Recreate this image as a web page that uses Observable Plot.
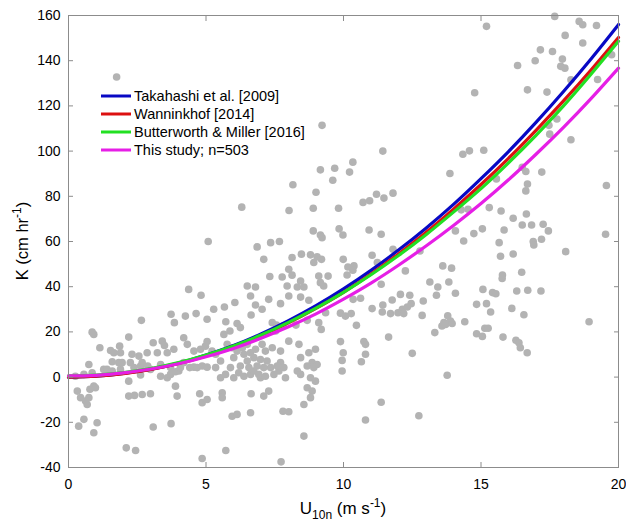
<!DOCTYPE html>
<html><head><meta charset="utf-8">
<script src="https://cdn.jsdelivr.net/npm/d3@7"></script>
<script src="https://cdn.jsdelivr.net/npm/@observablehq/plot@0.6"></script>
<style>body{margin:0;background:#fff;} svg{display:block}</style>
</head><body><div id="chart"></div>
<script>
// Observations: wind speed U10n (m/s) and transfer velocity K (cm/hr)
const windU = [
1.75, 9.22, 9.16, 9.68, 9.61, 8.16, 9.0, 10.22, 6.3, 8.02,
8.9, 9.82, 8.9, 9.16, 9.84, 9.98, 15.2, 14.77, 11.43, 10.34,
14.34, 14.58, 15.1, 13.87, 11.2, 11.47, 11.8, 10.71, 10.95, 14.28,
14.53, 15.3, 10.93, 11.37, 14.07, 14.74, 15.05, 17.68, 18.57, 18.7,
19.2, 18.06, 18.7, 17.16, 17.6, 16.97, 16.33, 17.96, 17.9, 18.05,
19.75, 18.27, 19.24, 16.69, 17.4, 17.47, 17.76, 17.5, 18.27, 16.63,
17.21, 16.5, 15.56, 16.69, 16.63, 19.56, 15.73, 16.17, 16.65, 16.5,
16.84, 17.26, 17.45, 15.84, 19.53, 15.66, 16.9, 16.92, 17.2, 15.71,
16.17, 18.08, 15.78, 15.77, 16.48, 15.07, 15.42, 15.54, 16.3, 16.7,
17.18, 14.84, 15.2, 15.35, 16.12, 16.56, 18.93, 15.14, 15.26, 14.84,
15.05, 15.8, 16.27, 16.38, 16.43, 16.68, 14.37, 11.8, 11.04, 9.99,
10.16, 10.38, 10.34, 10.13, 11.23, 11.37, 12.25, 12.78, 13.61, 13.93,
13.14, 13.43, 13.83, 14.07, 13.38, 10.35, 10.62, 11.77, 12.07, 12.41,
11.43, 11.41, 11.71, 11.98, 12.14, 12.32, 12.46, 12.19, 12.9, 11.04,
12.86, 10.28, 10.47, 13.79, 13.89, 13.65, 13.58, 13.71, 13.95, 13.32,
14.41, 11.64, 9.89, 9.99, 9.95, 9.95, 10.74, 10.8, 10.8, 10.65,
12.5, 13.77, 11.37, 10.8, 12.74, 5.08, 4.37, 4.82, 3.73, 3.85,
4.25, 4.64, 5.04, 2.65, 0.86, 0.92, 1.14, 1.53, 1.65, 1.86,
1.89, 2.19, 2.31, 1.59, 1.83, 2.86, 3.08, 3.41, 3.49, 3.23,
3.59, 3.83, 4.19, 4.32, 4.56, 4.8, 5.04, 0.74, 0.86, 1.28,
1.4, 1.59, 1.89, 1.95, 2.25, 2.38, 2.62, 2.68, 2.62, 2.19,
2.88, 2.98, 3.35, 3.59, 3.71, 3.89, 4.01, 4.07, 4.19, 4.41,
4.56, 4.68, 4.86, 5.04, 3.89, 3.95, 4.77, 4.86, 5.04, 0.25,
0.56, 0.32, 0.44, 0.62, 0.68, 0.74, 0.92, 0.98, 0.78, 0.37,
0.56, 0.92, 1.04, 2.1, 2.44, 3.08, 3.73, 4.86, 2.98, 2.19,
2.4, 2.68, 3.35, 3.71, 2.56, 4.98, 6.86, 7.35, 7.67, 7.1,
8.13, 8.47, 8.8, 8.92, 9.04, 9.2, 8.01, 7.32, 7.77, 8.13,
8.44, 8.32, 8.56, 9.1, 9.16, 9.28, 9.44, 6.5, 6.8, 6.62,
7.95, 8.01, 7.28, 7.71, 8.44, 8.74, 6.05, 6.8, 7.04, 5.28,
5.67, 6.64, 5.72, 6.13, 6.25, 5.87, 7.41, 7.56, 7.8, 7.53,
8.27, 8.68, 9.1, 9.19, 9.35, 9.89, 10.07, 5.65, 5.22, 5.77,
5.95, 6.13, 6.32, 6.5, 6.62, 6.8, 7.04, 7.16, 6.74, 6.98,
7.71, 8.01, 8.38, 8.44, 8.74, 8.98, 8.86, 9.04, 5.35, 5.53,
5.71, 5.89, 6.01, 6.19, 6.38, 6.56, 6.62, 6.74, 6.86, 6.98,
7.16, 7.35, 7.47, 7.65, 7.71, 7.89, 8.32, 8.44, 8.68, 8.8,
8.98, 8.92, 8.68, 8.86, 8.8, 8.56, 5.59, 5.59, 6.64, 7.1,
7.28, 5.95, 6.13, 6.62, 7.8, 8.01, 8.56, 5.72, 7.73, 9.22,
6.25, 6.5, 7.22, 7.59, 6.01, 5.53, 5.35, 6.38, 7.41, 7.83, 6.92, 7.1
];
const transferK = [
132.8, 111.4, 91.7, 92.4, 87.1, 85.1, 81.8, 90.7, 75.2, 73.7,
74.7, 74.7, 64.7, 62.9, 65.6, 62.9, 155.2, 125.8, 100, 95.1,
98.6, 100.1, 100.4, 90.1, 80.9, 79.2, 81.4, 77.3, 78, 74,
74.3, 75, 65.1, 63.2, 64.7, 63.5, 65.6, 159.6, 157.4, 155.9,
155.6, 151.2, 147.8, 144.8, 144.1, 140, 137.9, 140.7, 137.5, 136.7,
142.6, 131.6, 131.7, 127.1, 126.1, 111.4, 114.2, 107.5, 105, 91,
90.7, 92.8, 87.7, 85.4, 82.4, 84.8, 73.5, 70.3, 72.2, 67.3,
67.3, 67.6, 64.7, 65.1, 63.2, 59.5, 60, 58.5, 61, 53.5,
54.5, 55.5, 45.2, 43.6, 46.4, 38.8, 37.4, 36.9, 38.1, 38.4,
38.1, 32.2, 32.5, 28.8, 30.4, 27.6, 24.5, 21.6, 21.6, 19.2,
18, 17.7, 16.3, 15.2, 13, 10.8, 60.2, 56.6, 53.9, 52.1,
48.7, 49.2, 47.3, 45.2, 50.7, 41.1, 47, 55.8, 49.2, 48.2,
42.1, 39.9, 42.1, 37.1, 36.2, 34.4, 34.9, 34.1, 36.6, 36.2,
31.9, 28.8, 28.1, 28.5, 30, 31, 32.5, 28.1, 33.7, 30.3,
27.3, 28.1, 22.9, 27.1, 24.8, 24.1, 22.6, 23.3, 23.7, 19.7,
24.5, 17.7, 15.7, 10.8, 7.4, 2.7, 15.7, 14.5, 10.1, 6.8,
10.5, 0.8, -11.1, -19, -17.1, 60, 38.8, 36.2, 27.8, 24.1,
27, 28.1, 25.6, 25.1, 19.9, 18.9, 13, 11.8, 10.8, 13.7,
10.8, 17.7, 10.1, 6.8, 6.4, 10.8, 15.2, 15.9, 14, 10.8,
10.8, 12.3, 17.4, 14.5, 11.5, 12.3, 15.7, 5.6, 1.9, 3.4,
3.4, 2.7, 3.4, 6.4, 6.4, 4.2, 4.9, 6.4, 0.9, -1.8,
4.9, 3.4, 0.4, -0.3, 1.2, 2.4, 2.7, 4.2, 6.4, 4.2,
4.4, 4.2, 4.9, 4.4, -4, -8.4, -7.4, -11.3, -9.9, 0.4,
1.2, -6.2, -9.1, -10.6, -12.1, -9.1, -4, -4.7, -5.4, -21.7,
-18.7, -24.6, -20.2, -31.3, -32.5, -22.1, -20.6, -36, -7.4, -8.4,
-8.1, -7.7, 5.6, 4.2, 9.3, 13.7, 57.6, 59.5, 60, 52.1,
52.9, 54.4, 54.1, 50.7, 53.2, 52.1, 47.7, 44.5, 44.3, 45.1,
42.5, 39.9, 39.9, 44.7, 41.8, 40.3, 44.7, 40.3, 39.9, 35.9,
40.3, 35.9, 34.4, 32.5, 35.4, 34, 33, 31.9, 30, 30,
31, 27.5, 24.5, 23.7, 21.9, 20.4, 24.1, 23, 22.6, 20.4,
23, 25.1, 24.1, 21.1, 28.5, 28.3, 27, 18.9, 11.5, 14.5,
13, 11.5, 13, 14.5, 10.8, 12.3, 14.5, 11.5, 8.6, 7.8,
11.5, 15.9, 14.5, 8.6, 10.8, 12.3, 6.4, 5.6, 4.2, -0.3,
1.2, 4.2, -0.3, 1.9, 0.4, 4.2, 1.2, 2.7, 4.9, -0.3,
0.4, 4.2, 1.2, 2.7, 6.4, -0.3, 2.7, 1.2, 4.9, -0.3,
-1.8, 4.2, -4.7, -6.2, -9.1, -12.1, -6.9, -9.1, -7.4, -8.4,
-6.2, -17.3, -16.5, -15.8, -15.1, -15.3, -26.1, -32.5, -37.5, 61.7,
4.9, 7.1, 7.1, 4.9, 8.6, 7.1, 10.1, 10.1, 13, 4.2, 1.2, 4.2
];

// Parameterisation curves at whole m/s
const uGrid = [0, 1, 2, 3, 4, 5, 6, 7, 8, 9, 10, 11, 12, 13, 14, 15, 16, 17, 18, 19, 20];
const takahashi = [0, 0.4, 1.6, 3.5, 6.2, 9.8, 14.0, 19.1, 25.0, 31.6, 39.0, 47.2, 56.2, 65.9, 76.4, 87.8, 99.8, 112.7, 126.4, 140.8, 156.0];
const wanninkhof = [0, 0.4, 1.5, 3.4, 6.0, 9.4, 13.5, 18.4, 24.0, 30.4, 37.5, 45.6, 54.5, 64.0, 74.3, 85.2, 96.8, 109.2, 122.2, 135.9, 150.3];
const butterworth = [0.5, 0.9, 2.0, 3.8, 6.4, 9.8, 13.8, 18.6, 24.2, 30.5, 37.5, 45.3, 53.8, 63.0, 73.0, 83.4, 94.8, 107.0, 120.0, 134.0, 148.6];
const thisStudy = [0.5, 0.8, 1.9, 3.6, 5.9, 9.0, 12.7, 17.2, 22.3, 28.0, 34.5, 41.6, 49.5, 58.0, 67.1, 76.8, 87.3, 98.6, 110.5, 123.2, 136.7];

const seriesNames = ["Takahashi et al. [2009]", "Wanninkhof [2014]", "Butterworth & Miller [2016]", "This study; n=503"];
const seriesColors = ["#0808c4", "#dc1010", "#22e022", "#e61ee6"];
const xTicks = [0, 5, 10, 15, 20];
const yTicks = [-40, -20, 0, 20, 40, 60, 80, 100, 120, 140, 160];

const points = windU.map((u, i) => ({u, k: transferK[i]}));
const curves = [takahashi, wanninkhof, butterworth, thisStudy].map((vals, s) => uGrid.map((u, i) => ({u, k: vals[i], s})));

const gray = "#8c8c8c";
const font = "'Liberation Sans', Arial, Helvetica, sans-serif";
const noText = () => "";

const chart = Plot.plot({
  width: 626, height: 522,
  marginLeft: 68, marginRight: 8, marginTop: 15, marginBottom: 55,
  style: {fontFamily: font, fontSize: "14px", background: "white", color: "black", overflow: "visible"},
  x: {domain: [0, 20], label: null},
  y: {domain: [-40, 160], label: null},
  marks: [
    Plot.dot(points, {x: "u", y: "k", r: 3.8, fill: "#b3b3b3", stroke: null}),
    ...curves.map((c, s) => Plot.line(c, {x: "u", y: "k", stroke: seriesColors[s], strokeWidth: 3.2, curve: "natural"})),
    Plot.frame({stroke: gray}),
    Plot.axisX({ticks: xTicks, tickSize: -5, tickPadding: 17, stroke: gray, fill: "black", label: null, tickFormat: d => String(d)}),
    Plot.axisX({ticks: xTicks, anchor: "top", tickSize: -5, stroke: gray, label: null, tickFormat: noText}),
    Plot.axisY({ticks: yTicks, tickSize: -5, tickPadding: 13, stroke: gray, fill: "black", label: null, tickFormat: d => String(d)}),
    Plot.axisY({ticks: yTicks, anchor: "right", tickSize: -5, stroke: gray, label: null, tickFormat: noText})
  ]
});
document.getElementById("chart").appendChild(chart);

const svg = d3.select(chart);
// Legend
const lg = svg.append("g").attr("font-family", font).attr("font-size", 14.5).attr("fill", "black")
  .attr("text-anchor", "start");
seriesNames.forEach((name, i) => {
  const y = 96 + i * 18;
  lg.append("line").attr("x1", 101).attr("x2", 131).attr("y1", y).attr("y2", y)
    .attr("stroke", seriesColors[i]).attr("stroke-width", 3);
  lg.append("text").attr("x", 134).attr("y", y).attr("dy", "0.35em").attr("text-anchor", "start").text(name);
});
// X label
const xl = svg.append("text").attr("x", 343).attr("y", 514).attr("text-anchor", "middle")
  .attr("font-family", font).attr("font-size", 17).attr("fill", "black");
xl.append("tspan").text("U");
xl.append("tspan").attr("font-size", 12).attr("dy", 5).text("10n");
xl.append("tspan").attr("dy", -5).text(" (m s");
xl.append("tspan").attr("font-size", 12).attr("dy", -7).text("-1");
xl.append("tspan").attr("dy", 7).text(")");
// Y label
const yl = svg.append("text").attr("transform", "translate(28,241) rotate(-90)").attr("text-anchor", "middle")
  .attr("font-family", font).attr("font-size", 16.5).attr("fill", "black");
yl.append("tspan").text("K (cm hr");
yl.append("tspan").attr("font-size", 12).attr("dy", -7).text("-1");
yl.append("tspan").attr("dy", 7).text(")");
</script>
</body></html>
